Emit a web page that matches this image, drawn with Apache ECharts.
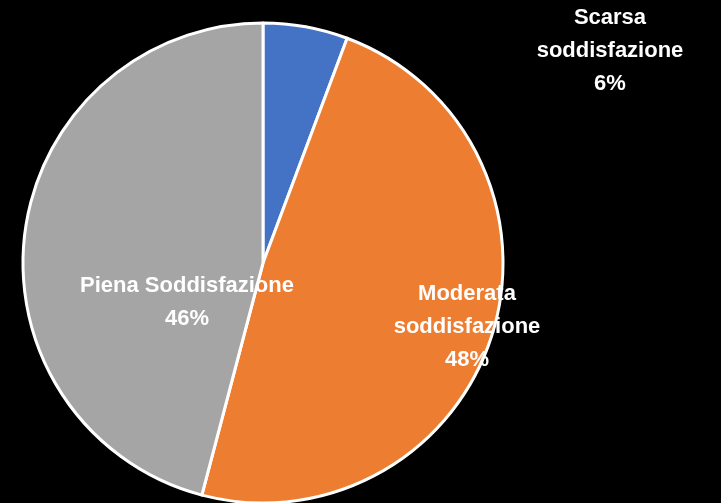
<!DOCTYPE html>
<html><head><meta charset="utf-8">
<script src="https://cdn.jsdelivr.net/npm/echarts@6/dist/echarts.min.js"></script>
<style>html,body{margin:0;padding:0;background:#000;}#c{width:721px;height:503px;}</style>
</head><body><div id="c"></div>
<script>
const categories = ['Scarsa\nsoddisfazione', 'Moderata\nsoddisfazione', 'Piena Soddisfazione'];
const values = [5.7, 48.4, 45.9];
const colors = ['#4472C4', '#ED7D31', '#A5A5A5'];
const labelSpots = [[610, 51], [467, 327], [187, 302]];

const chart = echarts.init(document.getElementById('c'));
chart.setOption({
  backgroundColor: '#000',
  animation: false,
  series: [{
    type: 'pie',
    center: [263, 263],
    radius: 240,
    startAngle: 90,
    clockwise: true,
    percentPrecision: 0,
    data: categories.map((n, i) => ({name: n, value: values[i], itemStyle: {color: colors[i]}})),
    itemStyle: {borderColor: '#fff', borderWidth: 3},
    label: {
      show: true,
      position: 'inside',
      formatter: '{b}\n{d}%',
      color: '#fff',
      fontFamily: 'Liberation Sans',
      fontWeight: 'bold',
      fontSize: 22,
      lineHeight: 33,
      align: 'center'
    },
    labelLine: {show: false},
    labelLayout: function (p) {
      const s = labelSpots[p.dataIndex];
      return {x: s[0], y: s[1], align: 'center', verticalAlign: 'middle'};
    }
  }]
});
</script></body></html>
